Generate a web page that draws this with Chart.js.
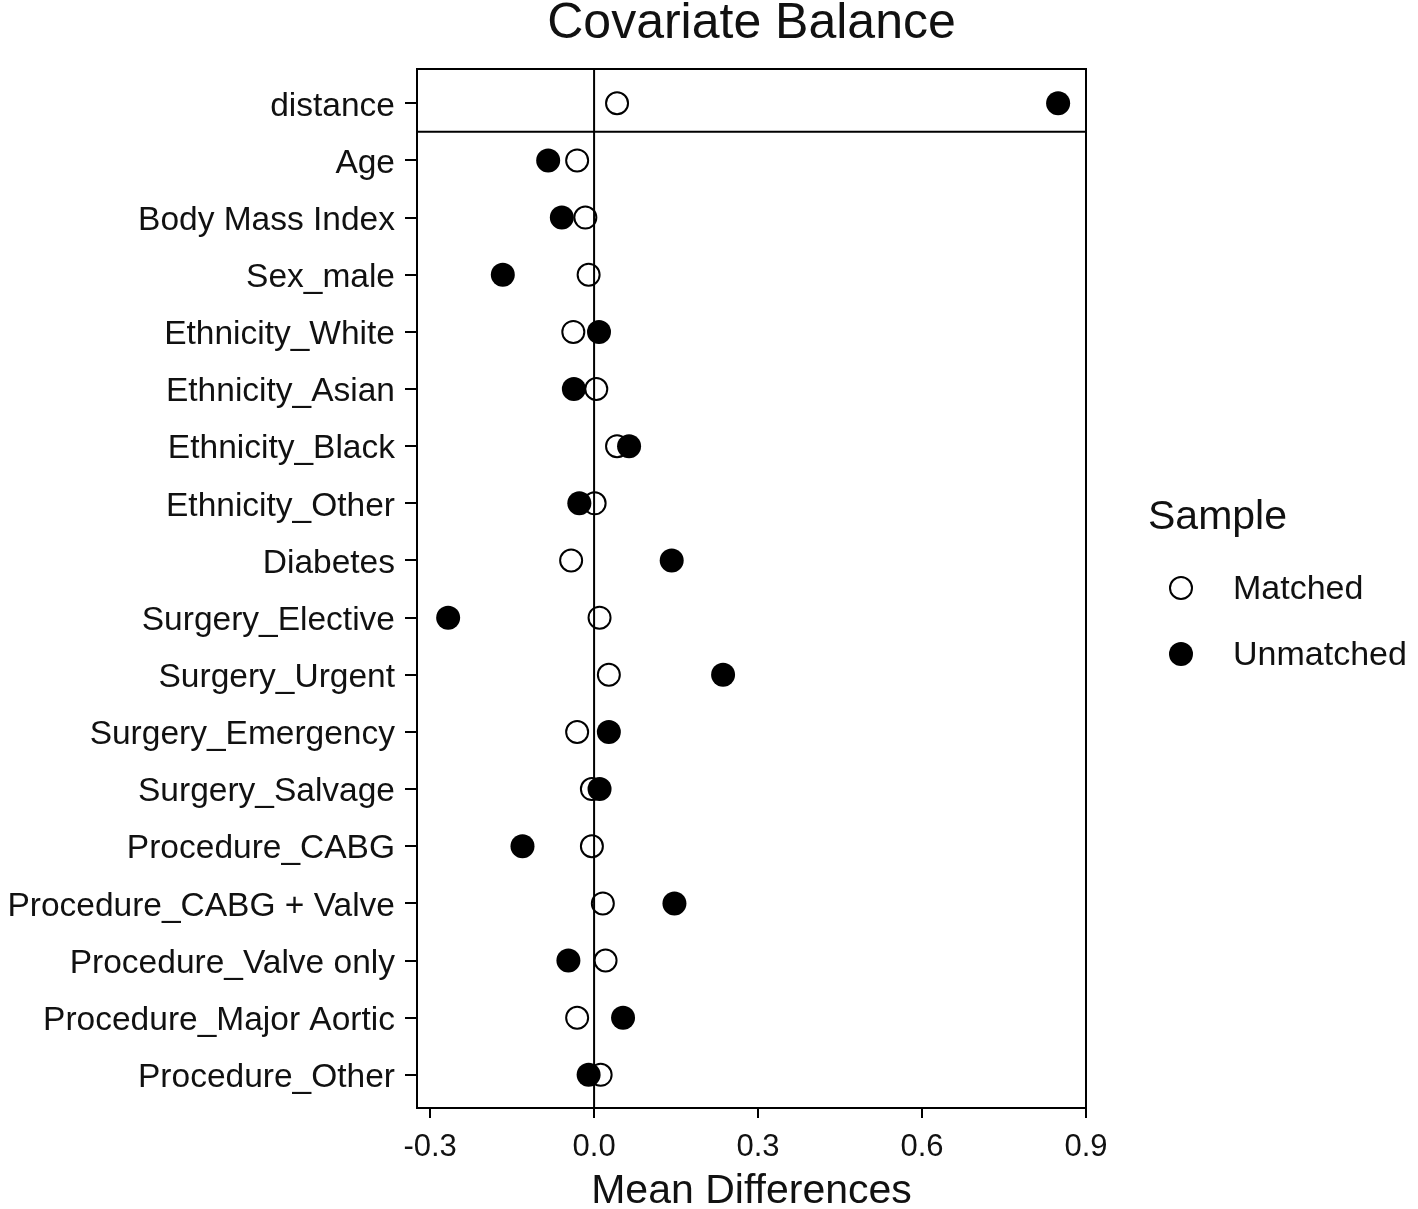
<!DOCTYPE html>
<html>
<head>
<meta charset="utf-8">
<title>Covariate Balance</title>
<script src="https://cdn.jsdelivr.net/npm/chart.js@4.4.1/dist/chart.umd.min.js"></script>
<style>
  html, body { margin: 0; padding: 0; background: #fff; }
  #wrap { width: 1418px; height: 1209px; }
</style>
</head>
<body>
<div id="wrap"><canvas id="balanceChart" width="1418" height="1209"></canvas></div>
<script>
// covariates, top to bottom
const covariates = [
  'distance', 'Age', 'Body Mass Index', 'Sex_male',
  'Ethnicity_White', 'Ethnicity_Asian', 'Ethnicity_Black', 'Ethnicity_Other',
  'Diabetes', 'Surgery_Elective', 'Surgery_Urgent', 'Surgery_Emergency',
  'Surgery_Salvage', 'Procedure_CABG', 'Procedure_CABG + Valve',
  'Procedure_Valve only', 'Procedure_Major Aortic', 'Procedure_Other'
];

// mean differences
const matched = [
  0.042, -0.031, -0.016, -0.010,
  -0.038, 0.004, 0.042, 0.001,
  -0.042, 0.010, 0.027, -0.031,
  -0.004, -0.004, 0.016,
  0.021, -0.031, 0.012
];
const unmatched = [
  0.849, -0.084, -0.059, -0.167,
  0.009, -0.037, 0.064, -0.027,
  0.142, -0.267, 0.236, 0.027,
  0.010, -0.131, 0.147,
  -0.047, 0.053, -0.010
];

const xTicks = [-0.3, 0.0, 0.3, 0.6, 0.9];
const seriesNames = ['Matched', 'Unmatched'];
const legendTitle = 'Sample';

const toPoints = vals => vals.map((v, i) => ({ x: v, y: i }));

Chart.defaults.font.family = "'Liberation Sans', Arial, sans-serif";
Chart.defaults.color = '#111';

// box around the panel, separator under "distance", zero reference line
const framePlugin = {
  id: 'frame',
  beforeDatasetsDraw(chart) {
    const { ctx, chartArea: a, scales: { x, y } } = chart;
    ctx.save();
    ctx.strokeStyle = '#000';
    ctx.lineWidth = 2;
    ctx.strokeRect(a.left, a.top, a.width, a.height);
    const sep = y.getPixelForValue(0.5);
    const zero = x.getPixelForValue(0);
    ctx.beginPath();
    ctx.moveTo(a.left, sep);
    ctx.lineTo(a.right, sep);
    ctx.moveTo(zero, a.top);
    ctx.lineTo(zero, a.bottom);
    ctx.stroke();
    ctx.restore();
  }
};

// legend to the right of the panel
const sideLegend = {
  id: 'sideLegend',
  afterDraw(chart) {
    const { ctx, chartArea: a } = chart;
    const left = a.right + 62;
    ctx.save();
    ctx.fillStyle = '#111';
    ctx.textBaseline = 'middle';
    ctx.textAlign = 'left';
    ctx.font = "41px 'Liberation Sans', Arial, sans-serif";
    ctx.fillText(legendTitle, left, 518);
    ctx.font = "34px 'Liberation Sans', Arial, sans-serif";
    const rows = [588, 654];
    chart.data.datasets.forEach((ds, i) => {
      const cy = rows[i];
      ctx.beginPath();
      ctx.arc(left + 33, cy, ds.pointRadius, 0, Math.PI * 2);
      ctx.fillStyle = ds.pointBackgroundColor;
      ctx.fill();
      if (ds.pointBorderWidth > 0) {
        ctx.lineWidth = ds.pointBorderWidth;
        ctx.strokeStyle = ds.pointBorderColor;
        ctx.stroke();
      }
      ctx.fillStyle = '#111';
      ctx.fillText(ds.label, left + 85, cy + 2);
    });
    ctx.restore();
  }
};

const ctx = document.getElementById('balanceChart');

new Chart(ctx, {
  type: 'scatter',
  data: {
    datasets: [
      {
        label: seriesNames[0],
        data: toPoints(matched),
        pointRadius: 11,
        pointBorderWidth: 2,
        pointBorderColor: '#000',
        pointBackgroundColor: 'rgba(0,0,0,0)',
        order: 1
      },
      {
        label: seriesNames[1],
        data: toPoints(unmatched),
        pointRadius: 12,
        pointBorderWidth: 0,
        pointBorderColor: '#000',
        pointBackgroundColor: '#000',
        order: 0
      }
    ]
  },
  options: {
    responsive: false,
    animation: false,
    devicePixelRatio: 1,
    layout: { padding: { top: 0, right: 332, bottom: 0, left: 0 } },
    plugins: {
      legend: { display: false },
      tooltip: { enabled: false },
      title: {
        display: true,
        text: 'Covariate Balance',
        fullSize: false,
        color: '#111',
        font: { size: 50, weight: 'normal', lineHeight: 0.88 },
        padding: { top: 2, bottom: 23 }
      }
    },
    scales: {
      x: {
        type: 'linear',
        min: -0.324,
        max: 0.9,
        border: { display: false },
        grid: { drawOnChartArea: false, drawTicks: true, tickLength: 10, color: '#000', lineWidth: 2 },
        afterBuildTicks: s => { s.ticks = xTicks.map(v => ({ value: v })); },
        afterFit: s => { s.height = 101; },
        ticks: {
          padding: 11,
          autoSkip: false,
          maxRotation: 0,
          font: { size: 31 },
          callback: v => v.toFixed(1)
        },
        title: {
          display: true,
          text: 'Mean Differences',
          color: '#111',
          font: { size: 41, lineHeight: 0.83 },
          padding: 0
        }
      },
      y: {
        type: 'linear',
        reverse: true,
        min: -0.6,
        max: 17.58,
        border: { display: false },
        grid: { drawOnChartArea: false, drawTicks: true, tickLength: 12, color: '#000', lineWidth: 2 },
        afterBuildTicks: s => { s.ticks = covariates.map((c, i) => ({ value: i })); },
        afterFit: s => { s.width = 417; },
        ticks: {
          padding: 10,
          labelOffset: 3,
          autoSkip: false,
          font: { size: 33.5 },
          callback: v => covariates[v]
        }
      }
    }
  },
  plugins: [framePlugin, sideLegend]
});
</script>
</body>
</html>
